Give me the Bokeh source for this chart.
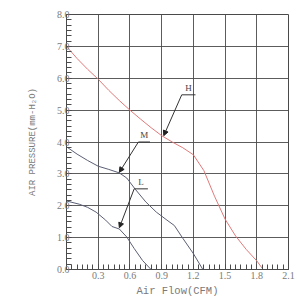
from bokeh.plotting import figure
from bokeh.models import Range1d, SingleIntervalTicker, PrintfTickFormatter, Arrow, NormalHead
from bokeh.core.properties import value
from bokeh.embed import file_html
from bokeh.resources import INLINE

# Data
flow_H = [0, 0.1, 0.2, 0.3, 0.4, 0.5, 0.6, 0.7, 0.8, 0.9, 1.0, 1.1, 1.2, 1.3, 1.4, 1.5, 1.6, 1.7, 1.8, 1.86]
pres_H = [7.0, 6.62, 6.28, 5.97, 5.62, 5.3, 5.0, 4.72, 4.45, 4.2, 4.0, 3.82, 3.6, 3.1, 2.3, 1.58, 1.05, 0.63, 0.27, 0.0]

flow_M = [0, 0.1, 0.2, 0.3, 0.4, 0.5, 0.57, 0.65, 0.75, 0.85, 0.95, 1.02, 1.1, 1.2, 1.29]
pres_M = [3.85, 3.62, 3.42, 3.24, 3.14, 3.03, 2.87, 2.52, 2.12, 1.8, 1.55, 1.38, 0.98, 0.5, 0.0]

flow_L = [0, 0.12, 0.2, 0.28, 0.37, 0.43, 0.5, 0.57, 0.64, 0.72, 0.8]
pres_L = [2.15, 2.05, 1.95, 1.8, 1.55, 1.35, 1.27, 1.02, 0.66, 0.28, 0.0]

# annotation labels: name, text position, underline start/end, arrow tip
ann_names = ["H", "M", "L"]
ann_text_x = [1.155, 0.735, 0.705]
ann_text_y = [5.55, 4.06, 2.58]
ann_line_x0 = [1.09, 0.68, 0.64]
ann_line_x1 = [1.22, 0.79, 0.77]
ann_line_y = [5.48, 4.0, 2.53]
ann_tip_x = [0.92, 0.5, 0.5]
ann_tip_y = [4.2, 3.05, 1.31]

grid_col = "#4a4a4a"
text_col = "#7a7a7a"
font = "Liberation Serif"
mono = "Liberation Mono"

p = figure(frame_width=222, frame_height=255, output_backend="svg", toolbar_location=None,
           x_range=Range1d(0, 2.1), y_range=Range1d(0, 8),
           min_border_left=66, min_border_right=8, min_border_top=14, min_border_bottom=26)

p.background_fill_color = "white"
p.outline_line_color = grid_col
p.outline_line_width = 1

xt = SingleIntervalTicker(interval=0.3, num_minor_ticks=6)
yt = SingleIntervalTicker(interval=1.0, num_minor_ticks=6)
p.xaxis.ticker = xt
p.yaxis.ticker = yt
p.xgrid.ticker = xt
p.ygrid.ticker = yt
for g in (p.xgrid, p.ygrid):
    g.grid_line_color = grid_col
    g.grid_line_width = 1
    g.grid_line_alpha = 0.9

p.xaxis.formatter = PrintfTickFormatter(format="%.1f")
p.yaxis.formatter = PrintfTickFormatter(format="%.1f")
p.xaxis.major_label_overrides = {0: ""}

for ax in (p.xaxis, p.yaxis):
    ax.axis_line_color = grid_col
    ax.major_tick_line_color = grid_col
    ax.minor_tick_line_color = grid_col
    ax.major_tick_in = 5
    ax.major_tick_out = 0
    ax.minor_tick_in = 5
    ax.minor_tick_out = 0
    ax.major_label_text_font = font
    ax.major_label_text_font_size = "10px"
    ax.major_label_text_color = text_col
    ax.axis_label_text_font = mono
    ax.axis_label_text_font_style = "normal"
    ax.axis_label_text_color = text_col

p.xaxis.axis_label = "Air Flow(CFM)"
p.xaxis.axis_label_text_font_size = "10.5px"
p.xaxis.major_label_standoff = 2
p.xaxis.axis_label_standoff = 3
p.yaxis.axis_label = "AIR PRESSURE(mm-H\u2082O)"
p.yaxis.axis_label_text_font_size = "9px"
p.yaxis.major_label_standoff = -3
p.yaxis.axis_label_standoff = 16

p.line(flow_H, pres_H, line_color="#e07a7a", line_width=1)
p.line(flow_M, pres_M, line_color="#5a5f74", line_width=1)
p.line(flow_L, pres_L, line_color="#5a5f74", line_width=1)

p.segment(x0=ann_line_x0, y0=ann_line_y, x1=ann_line_x1, y1=ann_line_y,
          line_color="#333333", line_width=1)
for i in range(len(ann_names)):
    p.add_layout(Arrow(end=NormalHead(size=5, fill_color="#222222", line_color="#222222"),
                       x_start=ann_line_x0[i], y_start=ann_line_y[i],
                       x_end=ann_tip_x[i], y_end=ann_tip_y[i],
                       line_color="#333333", line_width=1))
p.text(x=ann_text_x, y=ann_text_y, text=ann_names, text_font=value(font),
       text_font_size="9px", text_color="#444444", text_align="center", text_baseline="bottom")

open("out.html", "w").write(file_html(p, INLINE))
